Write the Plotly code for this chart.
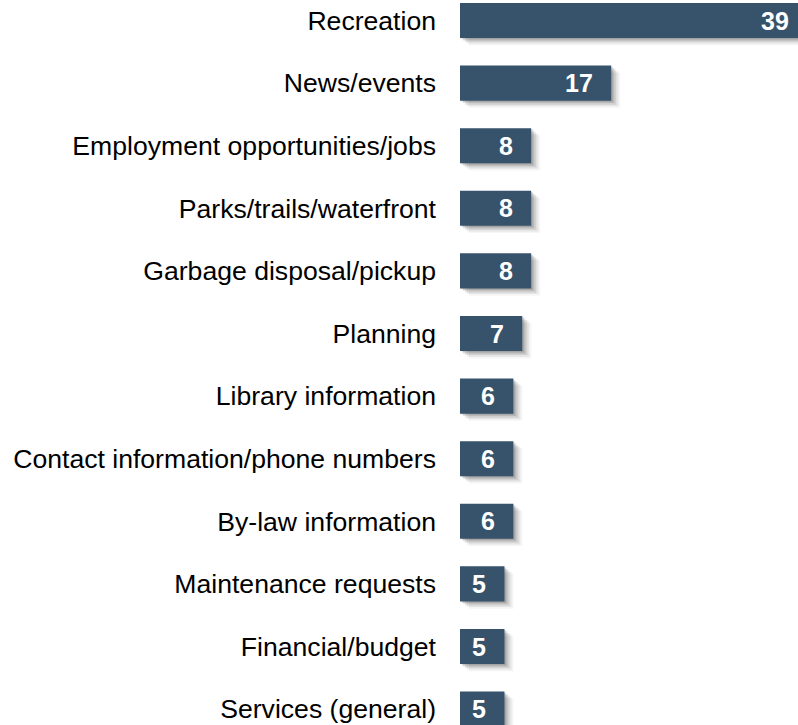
import plotly.graph_objects as go

# Website topics and counts
topics = ['Recreation', 'News/events', 'Employment opportunities/jobs', 'Parks/trails/waterfront',
          'Garbage disposal/pickup', 'Planning', 'Library information',
          'Contact information/phone numbers', 'By-law information', 'Maintenance requests',
          'Financial/budget', 'Services (general)']
counts = [39, 17, 8, 8, 8, 7, 6, 6, 6, 5, 5, 5]

BAR_COLOR = '#36536b'
W, H = 798, 725
LEFT = 460
X_MAX = 38
px_per_unit = (W - LEFT) / X_MAX
row_px = 62.6
bar_w = 0.56

fig = go.Figure()

# soft drop shadow made of a few offset, translucent copies of the bars
for k, alpha in [(9, 0.05), (7, 0.08), (5, 0.11), (3, 0.14), (1.5, 0.16)]:
    fig.add_trace(go.Bar(
        y=topics, x=counts, orientation='h',
        base=k / px_per_unit,
        width=bar_w, offset=-bar_w / 2 + 0.8 * k / row_px,
        marker=dict(color=f'rgba(50,50,50,{alpha})', line=dict(width=0)),
        hoverinfo='skip', showlegend=False
    ))

fig.add_trace(go.Bar(
    y=topics, x=counts, orientation='h',
    width=bar_w,
    marker=dict(color=BAR_COLOR, line=dict(width=0)),
    showlegend=False
))

# value labels, inside the bar end
for t, v in zip(topics, counts):
    xa = min(v, X_MAX)
    fig.add_annotation(
        x=xa, y=t, text=f'<b>{v}</b>', showarrow=False,
        xanchor='right', yanchor='middle',
        xshift=-16 + (v - xa) * px_per_unit,
        font=dict(family='Arial, Liberation Sans', size=25, color='white')
    )

top_off = 20.5 / row_px
fig.update_layout(
    width=W, height=H,
    margin=dict(l=LEFT, r=0, t=0, b=0),
    barmode='overlay',
    plot_bgcolor='white', paper_bgcolor='white',
    font=dict(family='Arial, Liberation Sans', size=26.6, color='black'),
    xaxis=dict(range=[0, X_MAX], visible=False),
    yaxis=dict(range=[-top_off + H / row_px, -top_off], showgrid=False,
               showline=False, zeroline=False, ticks='', ticklabelstandoff=23)
)

# drop the default page margin so the figure sits at the window corner
fig.write_html("out.html", config={'displayModeBar': False},
               post_script="document.body.style.margin='0';document.body.style.overflow='hidden';")
